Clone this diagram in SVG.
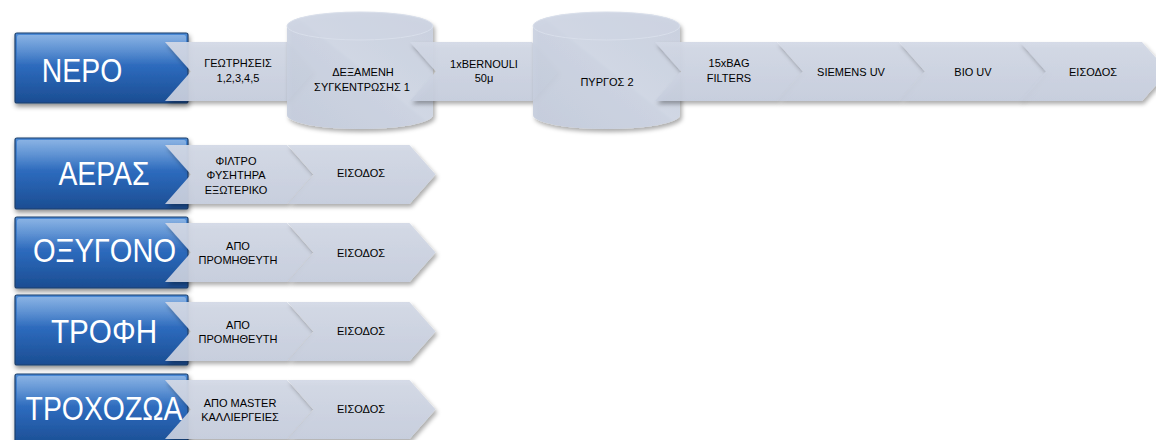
<svg xmlns="http://www.w3.org/2000/svg" width="1156" height="440" viewBox="0 0 1156 440">
<defs>
<linearGradient id="blueG" x1="0" y1="0" x2="0" y2="1">
<stop offset="0" stop-color="#4a8ad6"/>
<stop offset="0.5" stop-color="#2c69bb"/>
<stop offset="1" stop-color="#1b4d92"/>
</linearGradient>
<linearGradient id="hiG" x1="0" y1="0" x2="0" y2="1">
<stop offset="0" stop-color="#ffffff" stop-opacity="0.35"/>
<stop offset="1" stop-color="#ffffff" stop-opacity="0"/>
</linearGradient>
<linearGradient id="chevG" x1="0" y1="0" x2="0" y2="1">
<stop offset="0" stop-color="#d3d9e6"/>
<stop offset="1" stop-color="#c7cede"/>
</linearGradient>
<linearGradient id="cylG" x1="0" y1="1" x2="1" y2="0">
<stop offset="0" stop-color="#c4ccdc"/>
<stop offset="0.5" stop-color="#ccd3e2"/>
<stop offset="0.52" stop-color="#d0d7e5"/>
<stop offset="1" stop-color="#c9d0df"/>
</linearGradient>
<filter id="sh" x="-10%" y="-20%" width="130%" height="150%">
<feDropShadow dx="2" dy="3" stdDeviation="2" flood-color="#000" flood-opacity="0.35"/>
</filter>
<filter id="shB" x="-10%" y="-20%" width="130%" height="150%">
<feDropShadow dx="1" dy="3" stdDeviation="2.5" flood-color="#000" flood-opacity="0.45"/>
</filter>
<path id="chev" d="M0,0 H122 L148,29.5 L122,59 H0 L26,29.5 Z"/>
</defs>
<style>
.box{fill:url(#blueG);stroke:#1d3f6c;stroke-width:1.2;filter:url(#shB)}
.hi{fill:url(#hiG)}
.big{font-family:'Liberation Sans',Arial,sans-serif;font-size:33px;fill:#ffffff;text-anchor:middle}
.ch{fill:url(#chevG);fill-opacity:0.93;filter:url(#sh)}
.cyl{fill:url(#cylG);fill-opacity:0.93;filter:url(#sh)}
.cyltop{fill:#d0d6e4;stroke:#d9dfeb;stroke-width:1}
.t{font-family:'Liberation Sans',Arial,sans-serif;font-size:11px;fill:#000000;text-anchor:middle}
</style>
<rect width="1156" height="440" fill="#ffffff"/>

<!-- Row 1: ΝΕΡΟ -->
<g id="box-nero">
<rect class="box" x="15" y="33" width="173" height="70" rx="2"/>
<rect class="hi" x="17" y="35" width="169" height="30" rx="2"/>
<text class="big" transform="translate(82,82) scale(0.86,1)">ΝΕΡΟ</text>
</g>

<g id="connectors">
<g id="r1c1"><use href="#chev" class="ch" x="165" y="42"/>
<text class="t" x="238" y="67">ΓΕΩΤΡΗΣΕΙΣ</text><text class="t" x="238" y="81.5">1,2,3,4,5</text></g>
</g>

<g id="cyl1">
<path class="cyl" d="M287,26 A73,14 0 0 1 433,26 V115 A73,14 0 0 1 287,115 Z"/>
<ellipse class="cyltop" cx="360" cy="26" rx="73" ry="14" fill-opacity="0.5"/>
<text class="t" x="363" y="76">ΔΕΞΑΜΕΝΗ</text>
<text class="t" x="362" y="91">ΣΥΓΚΕΝΤΡΩΣΗΣ 1</text>
</g>

<g id="r1c2"><use href="#chev" class="ch" x="410" y="42"/>
<text class="t" x="484" y="67.5">1xBERNOULI</text><text class="t" x="484" y="82">50μ</text></g>

<g id="cyl2">
<path class="cyl" d="M533,26 A73.5,14 0 0 1 680,26 V115 A73.5,14 0 0 1 533,115 Z"/>
<ellipse class="cyltop" cx="606.5" cy="26" rx="73.5" ry="14" fill-opacity="0.5"/>
<text class="t" x="607" y="86">ΠΥΡΓΟΣ 2</text>
</g>

<g id="r1c3"><use href="#chev" class="ch" x="655" y="42"/>
<text class="t" x="729" y="67">15xBAG</text><text class="t" x="729" y="82">FILTERS</text></g>
<g id="r1c4"><use href="#chev" class="ch" x="777" y="42"/>
<text class="t" x="851" y="76">SIEMENS UV</text></g>
<g id="r1c5"><use href="#chev" class="ch" x="899" y="42"/>
<text class="t" x="973" y="76">BIO UV</text></g>
<g id="r1c6"><use href="#chev" class="ch" x="1020" y="42"/>
<text class="t" x="1093" y="76">ΕΙΣΟΔΟΣ</text></g>

<!-- Row 2: ΑΕΡΑΣ -->
<g id="box-aeras">
<rect class="box" x="15" y="138" width="173" height="71" rx="2"/>
<rect class="hi" x="17" y="140" width="169" height="30" rx="2"/>
<text class="big" transform="translate(104,185) scale(0.86,1)">ΑΕΡΑΣ</text>
</g>
<g id="r2c1"><use href="#chev" class="ch" x="165" y="145"/>
<text class="t" x="236" y="164.5">ΦΙΛΤΡΟ</text><text class="t" x="236" y="179">ΦΥΣΗΤΗΡΑ</text><text class="t" x="236" y="193.5">ΕΞΩΤΕΡΙΚΟ</text></g>
<g id="r2c2"><use href="#chev" class="ch" x="287.5" y="145"/>
<text class="t" x="361" y="177">ΕΙΣΟΔΟΣ</text></g>

<!-- Row 3: ΟΞΥΓΟΝΟ -->
<g id="box-oxygono">
<rect class="box" x="15" y="217" width="173" height="71" rx="2"/>
<rect class="hi" x="17" y="219" width="169" height="30" rx="2"/>
<text class="big" transform="translate(104.5,262) scale(0.88,1)">ΟΞΥΓΟΝΟ</text>
</g>
<g id="r3c1"><use href="#chev" class="ch" x="165" y="223"/>
<text class="t" x="238" y="250">ΑΠΟ</text><text class="t" x="238" y="263.5">ΠΡΟΜΗΘΕΥΤΗ</text></g>
<g id="r3c2"><use href="#chev" class="ch" x="287.5" y="223"/>
<text class="t" x="361" y="256.5">ΕΙΣΟΔΟΣ</text></g>

<!-- Row 4: ΤΡΟΦΗ -->
<g id="box-trofi">
<rect class="box" x="15" y="295" width="173" height="70" rx="2"/>
<rect class="hi" x="17" y="297" width="169" height="30" rx="2"/>
<text class="big" transform="translate(104,343) scale(0.9,1)">ΤΡΟΦΗ</text>
</g>
<g id="r4c1"><use href="#chev" class="ch" x="165" y="302"/>
<text class="t" x="238" y="328.5">ΑΠΟ</text><text class="t" x="238" y="343">ΠΡΟΜΗΘΕΥΤΗ</text></g>
<g id="r4c2"><use href="#chev" class="ch" x="287.5" y="302"/>
<text class="t" x="361" y="335">ΕΙΣΟΔΟΣ</text></g>

<!-- Row 5: ΤΡΟΧΟΖΩΑ -->
<g id="box-trochozoa">
<rect class="box" x="15" y="374" width="173" height="72" rx="2"/>
<rect class="hi" x="17" y="376" width="169" height="30" rx="2"/>
<text class="big" transform="translate(104,420) scale(0.86,1)">ΤΡΟΧΟΖΩΑ</text>
</g>
<g id="r5c1"><use href="#chev" class="ch" x="165" y="380"/>
<text class="t" x="240" y="406.5">ΑΠΟ MASTER</text><text class="t" x="240" y="421">ΚΑΛΛΙΕΡΓΕΙΕΣ</text></g>
<g id="r5c2"><use href="#chev" class="ch" x="287.5" y="380"/>
<text class="t" x="361" y="413">ΕΙΣΟΔΟΣ</text></g>
</svg>
